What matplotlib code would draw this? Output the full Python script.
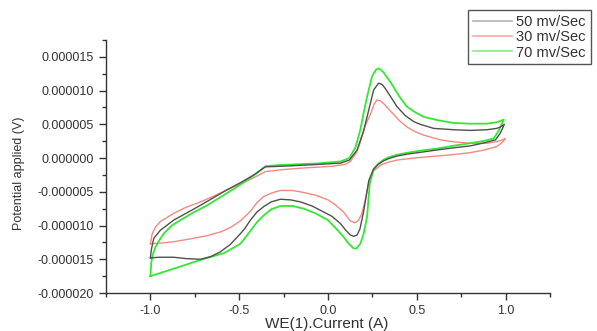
import matplotlib
matplotlib.use('Agg')
import matplotlib.pyplot as plt
from matplotlib.lines import Line2D
from matplotlib.ticker import MultipleLocator, FuncFormatter

plt.rcParams['font.family'] = ['Liberation Sans', 'DejaVu Sans']
plt.rcParams['axes.unicode_minus'] = False

# y values are in units of 1e-6
x50 = [-1.0, -0.995, -0.981, -0.944, -0.869, -0.80, -0.718, -0.64, -0.568, -0.49, -0.418, -0.352,
       -0.25, -0.06, 0.07, 0.12, 0.164, 0.20, 0.22, 0.257, 0.285, 0.305, 0.323, 0.355, 0.389,
       0.435, 0.483, 0.52, 0.595, 0.708, 0.80, 0.895, 0.95, 0.97, 0.993,
       0.97, 0.943, 0.87, 0.80, 0.70, 0.614, 0.52, 0.45, 0.389, 0.34, 0.314, 0.285, 0.257, 0.23,
       0.20, 0.18, 0.164, 0.145, 0.126, 0.10, 0.07, 0.02, -0.024, -0.09, -0.155, -0.21, -0.268,
       -0.32, -0.362, -0.40, -0.437, -0.47, -0.493, -0.55, -0.606, -0.66, -0.718, -0.80, -0.869,
       -0.95, -1.0]
y50 = [-14.8, -13.6, -11.9, -10.7, -9.2, -8.2, -7.0, -5.8, -4.7, -3.6, -2.5, -1.3,
       -1.2, -0.95, -0.75, -0.3, 1.2, 4.0, 6.1, 10.1, 11.1, 10.9, 10.3, 9.0, 7.6,
       6.3, 5.4, 5.0, 4.4, 4.2, 4.1, 4.2, 4.4, 4.6, 5.0,
       3.7, 2.7, 2.2, 1.8, 1.5, 1.2, 0.85, 0.6, 0.3, -0.1, -0.4, -0.9, -1.6, -3.3,
       -8.0, -10.5, -11.4, -11.6, -11.4, -10.7, -9.7, -8.6, -8.0, -7.1, -6.5, -6.2, -6.1,
       -6.5, -7.2, -8.0, -9.2, -10.5, -11.2, -12.8, -13.9, -14.6, -15.0, -14.9, -14.7,
       -14.7, -14.8]

x30 = [-1.0, -0.99, -0.97, -0.944, -0.869, -0.80, -0.718, -0.64, -0.568, -0.49, -0.418, -0.352,
       -0.25, -0.155, 0.032, 0.10, 0.126, 0.16, 0.18, 0.21, 0.239, 0.26, 0.275, 0.295, 0.32,
       0.351, 0.40, 0.445, 0.49, 0.539, 0.633, 0.708, 0.80, 0.896, 0.96, 1.0,
       0.98, 0.95, 0.88, 0.80, 0.70, 0.614, 0.52, 0.45, 0.389, 0.34, 0.30, 0.257, 0.23, 0.21,
       0.19, 0.17, 0.15, 0.125, 0.088, 0.04, 0.0, -0.07, -0.137, -0.20, -0.268, -0.32, -0.362,
       -0.40, -0.437, -0.493, -0.55, -0.60, -0.68, -0.78, -0.869, -0.94, -1.0]
y30 = [-12.7, -11.2, -10.2, -9.4, -8.2, -7.3, -6.5, -5.6, -4.7, -3.8, -2.9, -2.0,
       -1.7, -1.5, -1.2, -0.9, -0.5, 0.8, 2.2, 4.8, 6.5, 8.0, 8.6, 8.5, 7.9,
       7.0, 5.6, 4.6, 3.9, 3.4, 2.7, 2.4, 2.2, 2.2, 2.5, 2.9,
       2.3, 1.7, 1.2, 0.8, 0.5, 0.3, 0.1, -0.1, -0.3, -0.6, -1.0, -1.9, -3.6, -6.2,
       -8.3, -9.3, -9.6, -9.3, -8.0, -6.9, -6.2, -5.5, -5.1, -4.8, -4.8, -5.2, -5.7,
       -6.6, -7.9, -9.3, -10.3, -10.9, -11.5, -12.0, -12.4, -12.6, -12.7]

x70 = [-1.0, -0.995, -0.985, -0.972, -0.95, -0.925, -0.88, -0.831, -0.76, -0.68, -0.60, -0.52,
       -0.44, -0.40, -0.352, -0.25, -0.06, 0.07, 0.12, 0.155, 0.182, 0.20, 0.22, 0.248, 0.27,
       0.285, 0.31, 0.351, 0.40, 0.445, 0.49, 0.539, 0.62, 0.708, 0.80, 0.896, 0.95, 0.99,
       0.96, 0.933, 0.87, 0.80, 0.70, 0.614, 0.52, 0.45, 0.389, 0.34, 0.31, 0.28, 0.255, 0.235,
       0.22, 0.20, 0.182, 0.16, 0.145, 0.12, 0.088, 0.04, 0.0, -0.07, -0.137, -0.20, -0.268,
       -0.32, -0.362, -0.40, -0.437, -0.493, -0.587, -0.718, -0.80, -0.869, -0.94, -1.0]
y70 = [-17.5, -15.5, -14.2, -13.2, -12.2, -11.2, -10.0, -9.2, -8.1, -7.0, -5.7, -4.4,
       -3.0, -2.2, -1.2, -1.0, -0.8, -0.5, 0.0, 1.6, 4.2, 6.6, 9.1, 12.1, 13.1,
       13.3, 12.8, 11.3, 9.2, 7.6, 6.8, 6.1, 5.6, 5.2, 5.1, 5.1, 5.3, 5.7,
       4.0, 2.9, 2.5, 2.2, 1.8, 1.4, 1.1, 0.8, 0.5, 0.1, -0.3, -0.9, -1.8, -3.8,
       -8.7, -11.3, -12.7, -13.4, -13.4, -12.8, -11.7, -10.3, -9.2, -8.2, -7.5, -7.1, -7.1,
       -7.6, -8.5, -9.5, -10.8, -12.7, -14.1, -15.1, -15.8, -16.4, -17.0, -17.5]

labels = ['50 mv/Sec', '30 mv/Sec', '70 mv/Sec']

fig = plt.figure(figsize=(5.97, 3.31), dpi=100)
ax = fig.add_axes([106 / 597, 38 / 331, 444 / 597, 253 / 331])

ax.plot(x30, y30, color='#f28a80', lw=1.0)
ax.plot(x70, y70, color='#33e833', lw=1.3)
ax.plot(x50, y50, color='#505050', lw=1.0)

ax.set_xlim(-1.25, 1.25)
ax.set_ylim(-20, 17.5)
ax.xaxis.set_major_locator(MultipleLocator(0.5))
ax.xaxis.set_minor_locator(MultipleLocator(0.25))
ax.yaxis.set_major_locator(MultipleLocator(5))
ax.yaxis.set_minor_locator(MultipleLocator(2.5))
ax.xaxis.set_major_formatter(FuncFormatter(lambda v, p: f'{v:.1f}'))
ax.yaxis.set_major_formatter(FuncFormatter(lambda v, p: f'{v * 1e-6:.6f}'))

for s in ['top', 'right']:
    ax.spines[s].set_visible(False)
for s in ['left', 'bottom']:
    ax.spines[s].set_color('#333333')
    ax.spines[s].set_linewidth(1.0)
ax.tick_params(which='major', direction='out', length=5, width=1, color='#333333',
               labelsize=9, labelcolor='#333333')
ax.tick_params(which='minor', direction='out', length=3, width=1, color='#333333')

ax.set_xlabel('WE(1).Current (A)', fontsize=11, color='#333333')
ax.set_ylabel('Potential applied (V)', fontsize=9, color='#333333')
ax.xaxis.set_label_coords(0.497, -0.095)
ax.yaxis.set_label_coords(-0.182, 0.472)

handles = [Line2D([], [], color='#b4b4b4', lw=1.2),
           Line2D([], [], color='#f6aaa4', lw=1.2),
           Line2D([], [], color='#8fe88f', lw=1.2)]
leg = fig.legend(handles, labels, loc='upper left', bbox_to_anchor=(468 / 597, 1 - 10 / 331),
                 borderaxespad=0, fontsize=10.5, handlelength=2.7, handletextpad=0.3,
                 labelspacing=0.1, borderpad=0.32, fancybox=False, framealpha=1)
leg.get_frame().set_edgecolor('#555555')
leg.get_frame().set_linewidth(1.0)
for t in leg.get_texts():
    t.set_color('#333333')

fig.savefig('out.png', dpi=100)
